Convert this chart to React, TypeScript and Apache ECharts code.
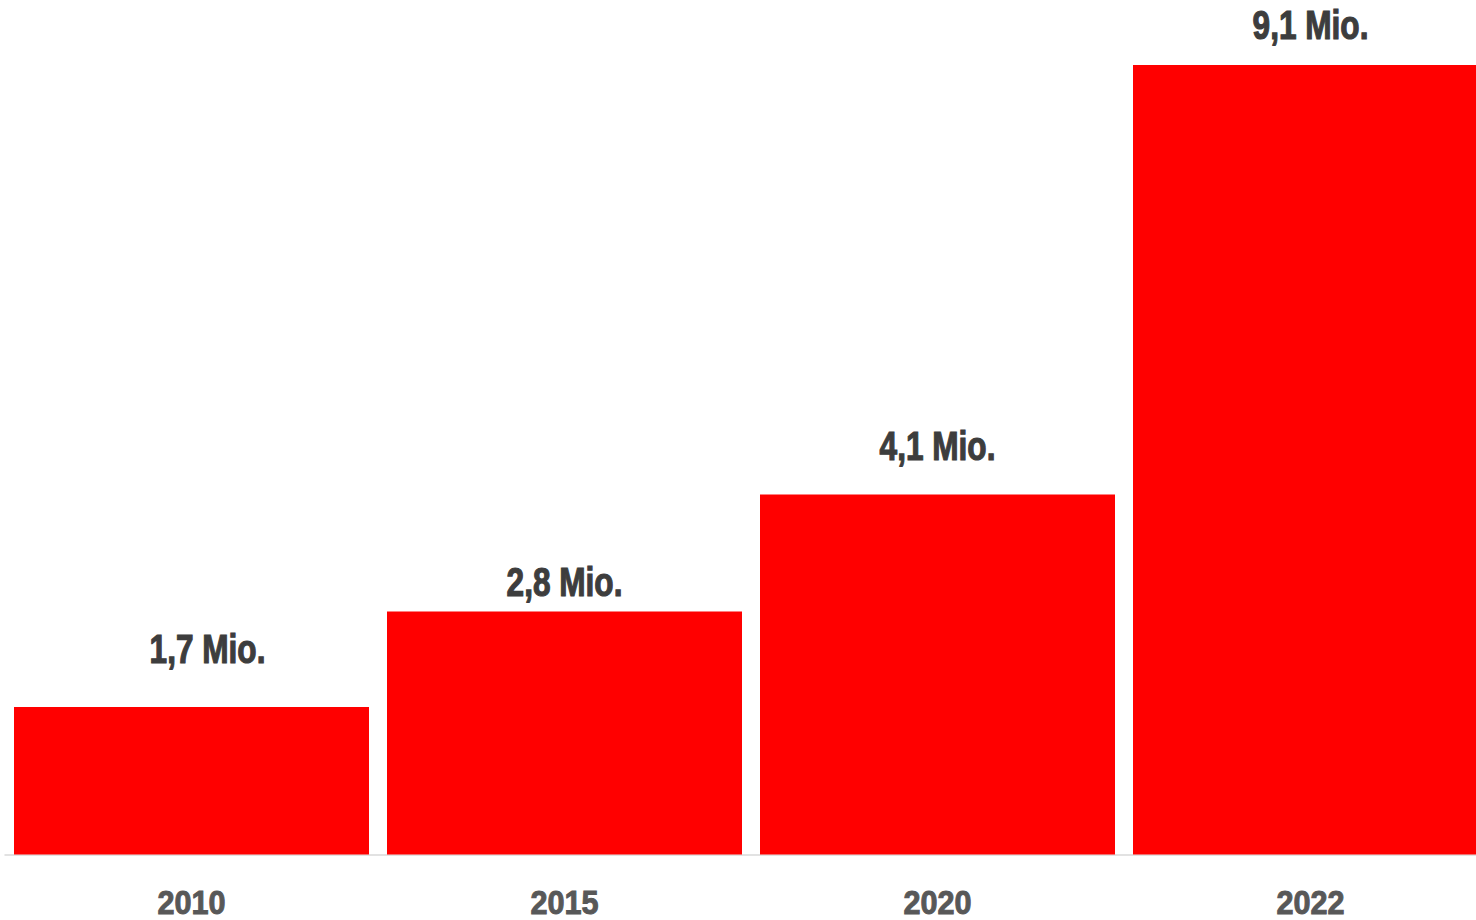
import React, { useEffect, useRef } from "react";
import * as echarts from "echarts";

const categories = ["2010", "2015", "2020", "2022"];
const values = [1.7, 2.8, 4.15, 9.1];
const valueLabels = ["1,7 Mio.", "2,8 Mio.", "4,1 Mio.", "9,1 Mio."];
const labelShiftX = [16, 0, 0, 0];
const labelGap = [44, 15, 34, 26];

const FONT = "'Liberation Sans', Arial, sans-serif";

export default function App() {
  const ref = useRef<HTMLDivElement>(null);
  useEffect(() => {
    if (!ref.current) return;
    const chart = echarts.init(ref.current, null, { renderer: "svg" });
    chart.setOption({
      animation: false,
      grid: { left: 5, right: 3, top: 0, bottom: 65.5, containLabel: false },
      xAxis: {
        type: "category",
        data: categories,
        axisLine: { lineStyle: { color: "#d9d9d9", width: 1.5 } },
        axisTick: { show: false },
        axisLabel: { show: false },
      },
      yAxis: { type: "value", min: 0, max: 9.85, show: false, splitLine: { show: false } },
      series: [
        {
          type: "bar",
          barWidth: 355,
          data: values,
          itemStyle: { color: "#ff0000" },
          label: { show: false },
        },
      ],
    });
    const texts: any[] = [];
    values.forEach((v, i) => {
      const top = chart.convertToPixel({ seriesIndex: 0 }, [i, v]) as number[];
      const base = chart.convertToPixel({ seriesIndex: 0 }, [i, 0]) as number[];
      texts.push({
        type: "text",
        x: top[0] + labelShiftX[i],
        y: top[1] - labelGap[i] - 14,
        scaleX: 0.79,
        style: {
          text: valueLabels[i],
          fill: "#3d3d3d",
          stroke: "#3d3d3d",
          lineWidth: 1.2,
          font: `bold 40px ${FONT}`,
          align: "center",
          verticalAlign: "middle",
        },
      });
      texts.push({
        type: "text",
        x: base[0],
        y: base[1] + 47.5,
        scaleX: 0.9,
        style: {
          text: categories[i],
          fill: "#585858",
          stroke: "#585858",
          lineWidth: 1,
          font: `bold 34px ${FONT}`,
          align: "center",
          verticalAlign: "middle",
        },
      });
    });
    chart.setOption({ graphic: { elements: texts } });
    return () => chart.dispose();
  }, []);
  return (
    <div style={{ position: "absolute", left: 0, top: 0, width: 1476, height: 920, overflow: "hidden", background: "#fff" }}>
      <div ref={ref} style={{ width: 1500, height: 920 }} />
    </div>
  );
}
